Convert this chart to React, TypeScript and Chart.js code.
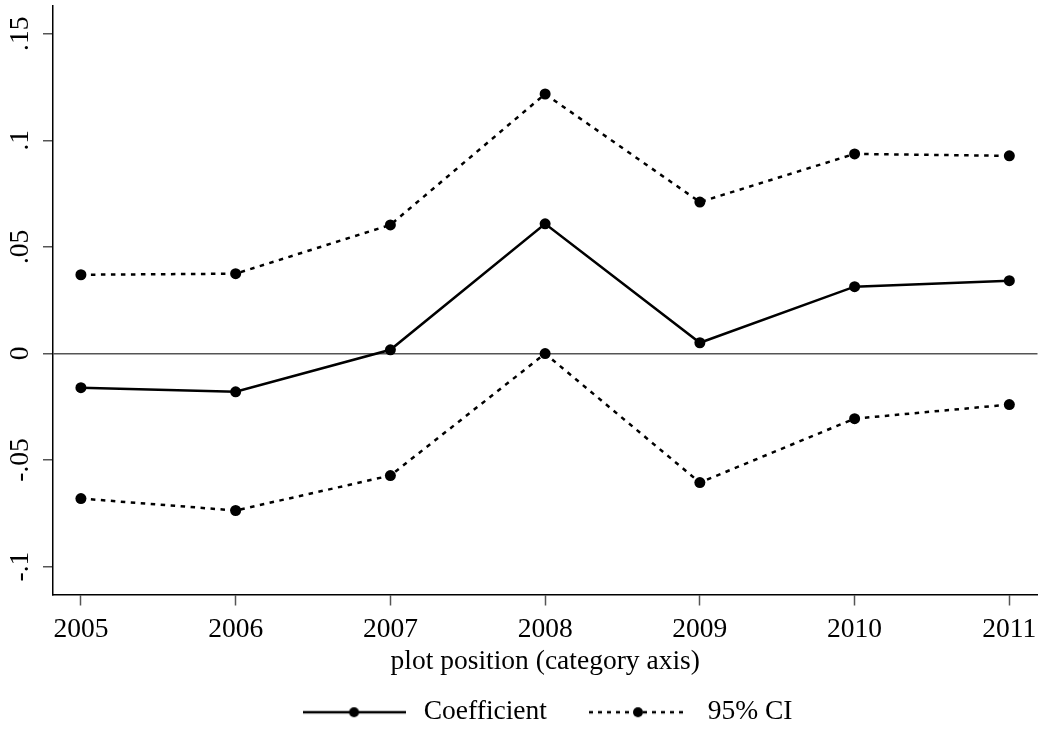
import React, { useEffect, useRef } from 'react';
import { Chart, registerables } from 'chart.js';

Chart.register(...registerables);

// ---- data ----
const years = [2005, 2006, 2007, 2008, 2009, 2010, 2011];
const xTickLabels = ['2005', '2006', '2007', '2008', '2009', '2010', '2011'];
const coefficient = [-0.0161, -0.018, 0.0017, 0.0608, 0.005, 0.0313, 0.0341];
const ciUpper = [0.0369, 0.0374, 0.0603, 0.1217, 0.071, 0.0936, 0.0927];
const ciLower = [-0.0681, -0.0737, -0.0573, -0.0001, -0.0606, -0.0306, -0.024];
const yTicks = [-0.1, -0.05, 0, 0.05, 0.1, 0.15];
const yTickLabels = ['-.1', '-.05', '0', '.05', '.1', '.15'];
const xTitle = 'plot position (category axis)';
const legendLabels = ['Coefficient', '95% CI'];

const FONT = "'Liberation Serif', 'Times New Roman', Times, serif";

function makeSwatch(w: number, dashed: boolean) {
  const c = document.createElement('canvas');
  c.width = w;
  c.height = 14;
  const g = c.getContext('2d')!;
  g.strokeStyle = '#000';
  g.lineWidth = 2.5;
  if (dashed) g.setLineDash([4, 5]);
  g.beginPath();
  g.moveTo(0, 7);
  g.lineTo(w, 7);
  g.stroke();
  g.setLineDash([]);
  g.fillStyle = '#000';
  g.beginPath();
  g.arc(w / 2, 7, 5, 0, Math.PI * 2);
  g.fill();
  return c;
}

export default function App() {
  const ref = useRef<HTMLCanvasElement>(null);

  useEffect(() => {
    if (!ref.current) return;
    Chart.defaults.font.family = FONT;
    const swatchSolid = makeSwatch(103, false);
    const swatchDot = makeSwatch(98, true);

    const common = {
      borderColor: '#000',
      backgroundColor: '#000',
      borderWidth: 2.5,
      pointRadius: 5.5,
      pointBorderWidth: 0,
      pointBackgroundColor: '#000',
      fill: false,
      tension: 0,
    };

    const chart = new Chart(ref.current, {
      type: 'line',
      data: {
        datasets: [
          {
            ...common,
            label: legendLabels[0],
            data: years.map((x, i) => ({ x, y: coefficient[i] })),
          },
          {
            ...common,
            label: legendLabels[1],
            borderDash: [4.5, 5.5],
            data: years.map((x, i) => ({ x, y: ciUpper[i] })),
          },
          {
            ...common,
            label: legendLabels[1] + ' lower',
            borderDash: [4.5, 5.5],
            data: years.map((x, i) => ({ x, y: ciLower[i] })),
          },
        ],
      },
      options: {
        animation: false,
        responsive: false,
        layout: { padding: { top: 6, right: 3, left: 0, bottom: 0 } },
        plugins: {
          tooltip: { enabled: false },
          legend: {
            position: 'bottom',
            fullSize: false,
            labels: {
              usePointStyle: true,
              pointStyleWidth: 112,
              padding: 35,
              color: '#000',
              font: { size: 27.5, family: FONT },
              generateLabels: () => [
                {
                  text: legendLabels[0],
                  pointStyle: swatchSolid as any,
                  datasetIndex: 0,
                  hidden: false,
                  lineWidth: 0,
                  strokeStyle: 'rgba(0,0,0,0)',
                  fillStyle: '#000',
                  fontColor: '#000',
                },
                {
                  text: legendLabels[1],
                  pointStyle: swatchDot as any,
                  datasetIndex: 1,
                  hidden: false,
                  lineWidth: 0,
                  strokeStyle: 'rgba(0,0,0,0)',
                  fillStyle: '#000',
                  fontColor: '#000',
                },
              ],
            },
          },
        },
        scales: {
          x: {
            type: 'linear',
            min: 2004.8196,
            max: 2011.182,
            afterBuildTicks: (s: any) => {
              s.ticks = years.map((v) => ({ value: v }));
            },
            afterFit: (s: any) => {
              s.height = 69;
              s.paddingLeft = 0;
              s.paddingRight = 0;
              s.paddingTop = 0;
              s.paddingBottom = 0;
            },
            ticks: {
              callback: (_v: any, i: number) => xTickLabels[i],
              color: '#000',
              font: { size: 27.5, family: FONT },
              padding: 8,
              maxRotation: 0,
              minRotation: 0,
              autoSkip: false,
            },
            grid: {
              drawOnChartArea: false,
              tickLength: 11,
              tickColor: '#555',
              tickWidth: 1.5,
            },
            border: { color: '#000', width: 1.5 },
            title: {
              display: true,
              text: xTitle,
              color: '#000',
              font: { size: 27.5, family: FONT },
              padding: { top: 0, bottom: -15 },
            },
          },
          y: {
            type: 'linear',
            min: -0.11311,
            max: 0.16299,
            afterBuildTicks: (s: any) => {
              s.ticks = yTicks.map((v) => ({ value: v }));
            },
            afterFit: (s: any) => {
              s.width = 53;
              s.paddingLeft = 0;
              s.paddingRight = 0;
              s.paddingTop = 0;
              s.paddingBottom = 0;
            },
            ticks: {
              callback: (_v: any, i: number) => yTickLabels[i],
              color: '#000',
              font: { size: 27.5, family: FONT },
              padding: 0,
              minRotation: 90,
              maxRotation: 90,
              crossAlign: 'center',
              autoSkip: false,
            },
            grid: {
              drawOnChartArea: true,
              color: (ctx: any) =>
                ctx.tick && ctx.tick.value === 0 ? '#555' : 'rgba(0,0,0,0)',
              lineWidth: 1.5,
              tickLength: 10,
              tickColor: '#555',
              tickWidth: 1.5,
            },
            border: { color: '#000', width: 1.5 },
          },
        },
      } as any,
    });

    return () => chart.destroy();
  }, []);

  return (
    <div
      style={{
        position: 'fixed',
        left: 0,
        top: 0,
        width: 1043,
        height: 730,
        overflow: 'hidden',
        background: '#fff',
      }}
    >
      <canvas
        ref={ref}
        width={1043}
        height={736}
        style={{ display: 'block', width: 1043, height: 736 }}
      />
    </div>
  );
}
